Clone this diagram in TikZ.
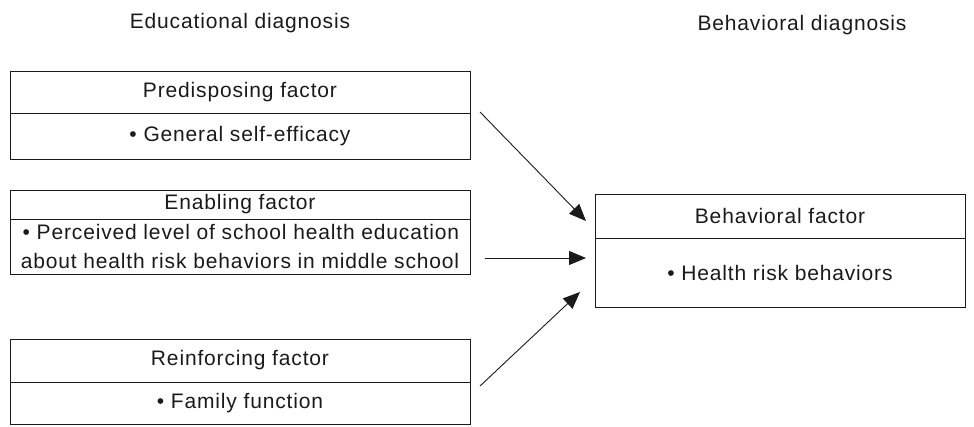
\documentclass[tikz,border=0pt]{standalone}
\usepackage{fontspec}
\setmainfont[LetterSpace=4]{Liberation Sans}
\usetikzlibrary{arrows.meta, positioning}
\definecolor{dxInk}{HTML}{1A1A1A}
\newcommand\diagfont{\fontsize{21}{29}\selectfont}
\tikzset{
  factor/.style={
    draw=dxInk, line width=1pt, inner sep=0pt, outer sep=0pt,
    minimum width=460pt, align=right,
    font=\diagfont, text=dxInk
  },
  title/.style={font=\diagfont, text=dxInk, inner sep=0pt},
  flow/.style={-{Triangle[length=17pt, width=14pt]}, line width=0.9pt, draw=dxInk},
}
\begin{document}
\begin{tikzpicture}[x=1pt, y=-1pt]
  \useasboundingbox (0,0) rectangle (974,426);
  \node[title] (edu) at (240,23) {Educational diagnosis};
  \node[title] (beh) at (802,25) {Behavioral diagnosis};
  % educational diagnosis
  \node[factor, anchor=north west, minimum height=42pt] (preH) at (10,71) {Predisposing factor};
  \node[factor, below=0pt of preH, minimum height=46pt] (preB) {\textbullet\ General self-efficacy};
  \node[factor, anchor=north west, minimum height=29pt] (enaH) at (10,190) {Enabling factor};
  \node[factor, below=0pt of enaH, minimum height=55pt] (enaB)
    {\textbullet\ Perceived level of school health education\\
     about health risk behaviors in middle school};
  \node[factor, anchor=north west, minimum height=43pt] (reiH) at (10,339) {Reinforcing factor};
  \node[factor, below=0pt of reiH, minimum height=42pt] (reiB) {\textbullet\ Family function};
  % behavioral diagnosis
  \node[factor, anchor=north west, minimum width=370pt, minimum height=44pt] (behH) at (595,194) {Behavioral factor};
  \node[factor, below=0pt of behH, minimum width=370pt, minimum height=69pt] (behB) {\textbullet\ Health risk behaviors};
  \draw[flow] ([xshift=10pt, yshift=1pt]preH.south east) -- ([xshift=-9pt, yshift=-5pt]behH.west);
  \draw[flow] ([xshift=15pt, yshift=-11.5pt]enaB.east) -- ([xshift=-9pt, yshift=14.5pt]behB.west);
  \draw[flow] ([xshift=10pt, yshift=-4pt]reiH.south east) -- ([xshift=-15pt, yshift=-19.5pt]behB.west);
\end{tikzpicture}
\end{document}
